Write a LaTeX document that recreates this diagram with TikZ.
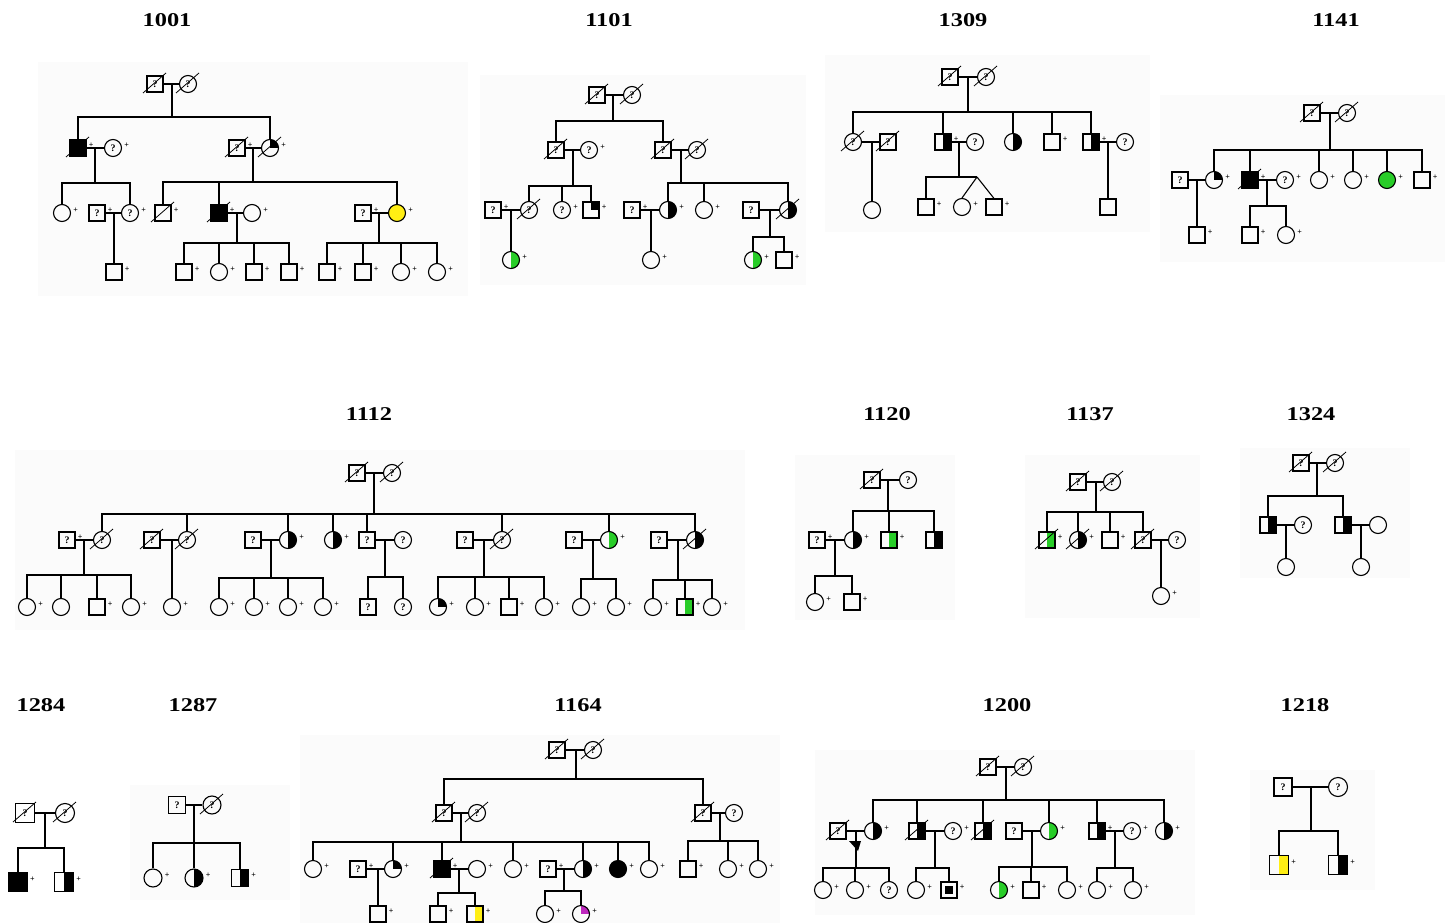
\documentclass[tikz,border=0pt]{standalone}
\usepackage{fontspec}
\setmainfont{Liberation Serif}
\definecolor{pgreen}{RGB}{40,205,40}
\definecolor{pyellow}{RGB}{255,238,20}
\definecolor{pmag}{RGB}{190,40,190}
\tikzset{
  sym/.style={draw=black, line width=1.1pt, inner sep=0pt, font=\fontsize{10}{10}\selectfont\bfseries},
  m/.style={sym, rectangle, minimum size=16pt},
  f/.style={sym, circle, minimum size=17pt},
  big/.style={minimum size=19pt},
  p/.style={label={[plusl]east:+}},
  plusl/.style={font=\fontsize{8}{8}\selectfont\bfseries, inner sep=0.5pt, xshift=1.5pt, yshift=3pt},
  hf/.style={path picture={\fill[#1] (path picture bounding box.south) rectangle (path picture bounding box.north east);}},
  qf/.style={path picture={\fill[#1] (path picture bounding box.center) rectangle (path picture bounding box.north east);}},
  hb/.style={hf=black}, hg/.style={hf=pgreen}, hy/.style={hf=pyellow},
  qb/.style={qf=black}, qm/.style={qf=pmag},
  fb/.style={fill=black}, fg/.style={fill=pgreen}, fy/.style={fill=pyellow},
  ln/.style={line width=1.1pt},
  sl/.style={line width=0.8pt},
  ttl/.style={font=\fontsize{19.5}{19.5}\selectfont\bfseries},
  bg/.style={fill=gray!3, draw=none}
}
\newcommand\dd[1]{\draw[sl] ([shift={(-12,9)}]#1.center) -- ([shift={(11,-11)}]#1.center);}
\newcommand\ttx[1]{\scalebox{1.25}[1]{#1}}
\begin{document}
\begin{tikzpicture}[x=1pt,y=-1pt]
\useasboundingbox (0,0) rectangle (1449,923);
% faint backgrounds
\fill[bg] (38,62) rectangle (468,296);
\fill[bg] (480,75) rectangle (806,285);
\fill[bg] (825,55) rectangle (1150,232);
\fill[bg] (1160,95) rectangle (1445,262);
\fill[bg] (15,450) rectangle (745,630);
\fill[bg] (795,455) rectangle (955,620);
\fill[bg] (1025,455) rectangle (1200,618);
\fill[bg] (1240,448) rectangle (1410,578);
\fill[bg] (130,785) rectangle (290,900);
\fill[bg] (300,735) rectangle (780,923);
\fill[bg] (815,750) rectangle (1195,915);
\fill[bg] (1250,770) rectangle (1375,890);
% titles
\node[ttl] (t1001) at (167,20) {\ttx{1001}};
\node[ttl] (t1101) at (609,20) {\ttx{1101}};
\node[ttl] (t1309) at (963,20) {\ttx{1309}};
\node[ttl] (t1141) at (1336,20) {\ttx{1141}};
\node[ttl] (t1112) at (369,414) {\ttx{1112}};
\node[ttl] (t1120) at (887,414) {\ttx{1120}};
\node[ttl] (t1137) at (1090,414) {\ttx{1137}};
\node[ttl] (t1324) at (1311,414) {\ttx{1324}};
\node[ttl] (t1284) at (41,705) {\ttx{1284}};
\node[ttl] (t1287) at (193,705) {\ttx{1287}};
\node[ttl] (t1164) at (578,705) {\ttx{1164}};
\node[ttl] (t1200) at (1007,705) {\ttx{1200}};
\node[ttl] (t1218) at (1305,705) {\ttx{1218}};

% ===== 1001 =====
\node[m] (a1) at (155,84) {?}; \dd{a1}
\node[f] (a2) at (188,84) {?}; \dd{a2}
\draw[ln] (a1) -- (a2);
\coordinate (am0) at (172,84); \coordinate (as0) at (172,117);
\draw[ln] (am0) -- (as0);
\node[m,fb,p] (a3) at (78,148) {}; \dd{a3}
\node[f,p] (a4) at (113,148) {?};
\node[m,p] (a5) at (237,148) {?}; \dd{a5}
\node[f,qb,p] (a6) at (270,148) {}; \dd{a6}
\draw[ln] (a3.north) |- (as0); \draw[ln] (a6.north) |- (as0);
\draw[ln] (a3) -- (a4); \draw[ln] (a5) -- (a6);
\coordinate (am1) at (95,148); \coordinate (as1) at (95,183);
\draw[ln] (am1) -- (as1);
\node[f,p] (a7) at (62,213) {};
\node[m,p] (a8) at (97,213) {?};
\node[f,p] (a9) at (130,213) {?};
\draw[ln] (a7.north) |- (as1); \draw[ln] (a9.north) |- (as1);
\draw[ln] (a8) -- (a9);
\coordinate (am2) at (114,213);
\node[m,p] (a10) at (114,272) {};
\draw[ln] (am2) -- (a10.north);
\coordinate (am3) at (253,148); \coordinate (as3) at (253,182);
\draw[ln] (am3) -- (as3);
\node[m,p] (a11) at (163,213) {}; \dd{a11}
\node[m,fb,p] (a12) at (219,213) {}; \dd{a12}
\node[f,p] (a13) at (252,213) {};
\node[m,p] (a14) at (363,213) {?};
\node[f,fy,p] (a15) at (397,213) {};
\draw[ln] (a11.north) |- (as3); \draw[ln] (a12.north) |- (as3); \draw[ln] (a15.north) |- (as3);
\draw[ln] (a12) -- (a13); \draw[ln] (a14) -- (a15);
\coordinate (am4) at (237,213); \coordinate (as4) at (237,243);
\draw[ln] (am4) -- (as4);
\node[m,p] (a16) at (184,272) {};
\node[f,p] (a17) at (219,272) {};
\node[m,p] (a18) at (254,272) {};
\node[m,p] (a19) at (289,272) {};
\foreach \c in {a16,a17,a18,a19} \draw[ln] (\c.north) |- (as4);
\coordinate (am5) at (379,213); \coordinate (as5) at (379,243);
\draw[ln] (am5) -- (as5);
\node[m,p] (a20) at (327,272) {};
\node[m,p] (a21) at (363,272) {};
\node[f,p] (a22) at (401,272) {};
\node[f,p] (a23) at (437,272) {};
\foreach \c in {a20,a21,a22,a23} \draw[ln] (\c.north) |- (as5);

% ===== 1101 =====
\node[m] (b1) at (597,95) {?}; \dd{b1}
\node[f] (b2) at (632,95) {?}; \dd{b2}
\draw[ln] (b1) -- (b2);
\coordinate (bm0) at (613,95); \coordinate (bs0) at (613,121);
\draw[ln] (bm0) -- (bs0);
\node[m] (b3) at (556,150) {?}; \dd{b3}
\node[f,p] (b4) at (589,150) {?};
\node[m] (b5) at (663,150) {?}; \dd{b5}
\node[f] (b6) at (697,150) {?}; \dd{b6}
\draw[ln] (b3.north) |- (bs0); \draw[ln] (b5.north) |- (bs0);
\draw[ln] (b3) -- (b4); \draw[ln] (b5) -- (b6);
\coordinate (bm1) at (573,150); \coordinate (bs1) at (573,186);
\draw[ln] (bm1) -- (bs1);
\coordinate (bm2) at (681,150); \coordinate (bs2) at (681,183);
\draw[ln] (bm2) -- (bs2);
\node[m,p] (b7) at (493,210) {?};
\node[f] (b8) at (529,210) {?}; \dd{b8}
\node[f,p] (b9) at (562,210) {?};
\node[m,qb,p] (b10) at (591,210) {};
\foreach \c in {b8,b9,b10} \draw[ln] (\c.north) |- (bs1);
\draw[ln] (b7) -- (b8);
\coordinate (bm3) at (511,210);
\node[f,hg,p] (b11) at (511,260) {};
\draw[ln] (bm3) -- (b11.north);
\node[m,p] (b12) at (632,210) {?};
\node[f,hb,p] (b13) at (668,210) {};
\node[f,p] (b14) at (704,210) {};
\node[m] (b15) at (751,210) {?};
\node[f,hb] (b16) at (788,210) {}; \dd{b16}
\foreach \c in {b13,b14,b16} \draw[ln] (\c.north) |- (bs2);
\draw[ln] (b12) -- (b13); \draw[ln] (b15) -- (b16);
\coordinate (bm4) at (651,210);
\node[f,p] (b17) at (651,260) {};
\draw[ln] (bm4) -- (b17.north);
\coordinate (bm5) at (770,210); \coordinate (bs5) at (770,237);
\draw[ln] (bm5) -- (bs5);
\node[f,hg,p] (b18) at (753,260) {};
\node[m,p] (b19) at (784,260) {};
\draw[ln] (b18.north) |- (bs5); \draw[ln] (b19.north) |- (bs5);

% ===== 1309 =====
\node[m] (c1) at (950,77) {?}; \dd{c1}
\node[f] (c2) at (986,77) {?}; \dd{c2}
\draw[ln] (c1) -- (c2);
\coordinate (cm0) at (968,77); \coordinate (cs0) at (968,112);
\draw[ln] (cm0) -- (cs0);
\node[f] (c3) at (853,142) {?}; \dd{c3}
\node[m] (c4) at (888,142) {?}; \dd{c4}
\node[m,hb,p] (c5) at (943,142) {};
\node[f] (c6) at (975,142) {?};
\node[f,hb] (c7) at (1013,142) {};
\node[m,p] (c8) at (1052,142) {};
\node[m,hb,p] (c9) at (1091,142) {};
\node[f] (c10) at (1125,142) {?};
\foreach \c in {c3,c5,c7,c8,c9} \draw[ln] (\c.north) |- (cs0);
\draw[ln] (c3) -- (c4); \draw[ln] (c5) -- (c6); \draw[ln] (c9) -- (c10);
\coordinate (cm1) at (872,142);
\node[f] (c11) at (872,210) {};
\draw[ln] (cm1) -- (c11.north);
\coordinate (cm2) at (959,142); \coordinate (cs2) at (959,177);
\coordinate (ctw) at (977,177);
\draw[ln] (cm2) -- (cs2);
\node[m,p] (c12) at (926,207) {};
\node[f,p] (c13) at (962,207) {};
\node[m,p] (c14) at (994,207) {};
\draw[ln] (c12.north) |- (ctw);
\draw[ln] (ctw) -- (c13.north); \draw[ln] (ctw) -- (c14.north);
\coordinate (cm3) at (1108,142);
\node[m] (c15) at (1108,207) {};
\draw[ln] (cm3) -- (c15.north);

% ===== 1141 =====
\node[m] (d1) at (1312,113) {?}; \dd{d1}
\node[f] (d2) at (1347,113) {?}; \dd{d2}
\draw[ln] (d1) -- (d2);
\coordinate (dm0) at (1330,113); \coordinate (ds0) at (1330,150);
\draw[ln] (dm0) -- (ds0);
\node[m] (d3) at (1180,180) {?};
\node[f,qb,p] (d4) at (1214,180) {};
\node[m,fb,p] (d5) at (1250,180) {}; \dd{d5}
\node[f,p] (d6) at (1285,180) {?};
\node[f,p] (d7) at (1319,180) {};
\node[f,p] (d8) at (1353,180) {};
\node[f,fg,p] (d9) at (1387,180) {};
\node[m,p] (d10) at (1422,180) {};
\foreach \c in {d4,d5,d7,d8,d9,d10} \draw[ln] (\c.north) |- (ds0);
\draw[ln] (d3) -- (d4); \draw[ln] (d5) -- (d6);
\coordinate (dm1) at (1197,180);
\node[m,p] (d11) at (1197,235) {};
\draw[ln] (dm1) -- (d11.north);
\coordinate (dm2) at (1267,180); \coordinate (ds2) at (1267,206);
\draw[ln] (dm2) -- (ds2);
\node[m,p] (d12) at (1250,235) {};
\node[f,p] (d13) at (1286,235) {};
\draw[ln] (d12.north) |- (ds2); \draw[ln] (d13.north) |- (ds2);

% ===== 1112 =====
\node[m] (e1) at (357,473) {?}; \dd{e1}
\node[f] (e2) at (392,473) {?}; \dd{e2}
\draw[ln] (e1) -- (e2);
\coordinate (em0) at (374,473); \coordinate (es0) at (374,514);
\draw[ln] (em0) -- (es0);
\node[m,p] (e3) at (67,540) {?};
\node[f] (e4) at (102,540) {?}; \dd{e4}
\node[m] (e5) at (152,540) {?}; \dd{e5}
\node[f] (e6) at (187,540) {?}; \dd{e6}
\node[m] (e7) at (253,540) {?};
\node[f,hb,p] (e8) at (288,540) {};
\node[f,hb,p] (e9) at (333,540) {};
\node[m] (e10) at (367,540) {?};
\node[f] (e11) at (403,540) {?};
\node[m] (e12) at (465,540) {?};
\node[f] (e13) at (502,540) {?}; \dd{e13}
\node[m] (e14) at (574,540) {?};
\node[f,hg,p] (e15) at (609,540) {};
\node[m] (e16) at (659,540) {?};
\node[f,hb] (e17) at (695,540) {}; \dd{e17}
\foreach \c in {e4,e6,e8,e9,e10,e13,e15,e17} \draw[ln] (\c.north) |- (es0);
\draw[ln] (e3) -- (e4); \draw[ln] (e5) -- (e6); \draw[ln] (e7) -- (e8);
\draw[ln] (e10) -- (e11); \draw[ln] (e12) -- (e13); \draw[ln] (e14) -- (e15); \draw[ln] (e16) -- (e17);
\coordinate (em1) at (84,540); \coordinate (es1) at (84,575);
\draw[ln] (em1) -- (es1);
\node[f,p] (e18) at (27,607) {};
\node[f] (e19) at (61,607) {};
\node[m,p] (e20) at (97,607) {};
\node[f,p] (e21) at (131,607) {};
\foreach \c in {e18,e19,e20,e21} \draw[ln] (\c.north) |- (es1);
\coordinate (em2) at (172,540);
\node[f,p] (e22) at (172,607) {};
\draw[ln] (em2) -- (e22.north);
\coordinate (em3) at (271,540); \coordinate (es3) at (271,578);
\draw[ln] (em3) -- (es3);
\node[f,p] (e23) at (219,607) {};
\node[f,p] (e24) at (254,607) {};
\node[f,p] (e25) at (288,607) {};
\node[f,p] (e26) at (323,607) {};
\foreach \c in {e23,e24,e25,e26} \draw[ln] (\c.north) |- (es3);
\coordinate (em4) at (385,540); \coordinate (es4) at (385,577);
\draw[ln] (em4) -- (es4);
\node[m] (e27) at (368,607) {?};
\node[f] (e28) at (403,607) {?};
\draw[ln] (e27.north) |- (es4); \draw[ln] (e28.north) |- (es4);
\coordinate (em5) at (484,540); \coordinate (es5) at (484,577);
\draw[ln] (em5) -- (es5);
\node[f,qb,p] (e29) at (438,607) {};
\node[f,p] (e30) at (475,607) {};
\node[m,p] (e31) at (509,607) {};
\node[f,p] (e32) at (544,607) {};
\foreach \c in {e29,e30,e31,e32} \draw[ln] (\c.north) |- (es5);
\coordinate (em6) at (593,540); \coordinate (es6) at (593,579);
\draw[ln] (em6) -- (es6);
\node[f,p] (e33) at (581,607) {};
\node[f,p] (e34) at (616,607) {};
\draw[ln] (e33.north) |- (es6); \draw[ln] (e34.north) |- (es6);
\coordinate (em7) at (678,540); \coordinate (es7) at (678,580);
\draw[ln] (em7) -- (es7);
\node[f,p] (e35) at (653,607) {};
\node[m,hg,p] (e36) at (685,607) {};
\node[f,p] (e37) at (712,607) {};
\foreach \c in {e35,e36,e37} \draw[ln] (\c.north) |- (es7);

% ===== 1120 =====
\node[m] (g1) at (872,480) {?}; \dd{g1}
\node[f] (g2) at (908,480) {?};
\draw[ln] (g1) -- (g2);
\coordinate (gm0) at (888,480); \coordinate (gs0) at (888,511);
\draw[ln] (gm0) -- (gs0);
\node[m,p] (g3) at (817,540) {?};
\node[f,hb,p] (g4) at (853,540) {};
\node[m,hg,p] (g5) at (889,540) {};
\node[m,hb] (g6) at (934,540) {};
\foreach \c in {g4,g5,g6} \draw[ln] (\c.north) |- (gs0);
\draw[ln] (g3) -- (g4);
\coordinate (gm1) at (835,540); \coordinate (gs1) at (835,576);
\draw[ln] (gm1) -- (gs1);
\node[f,p] (g7) at (815,602) {};
\node[m,p] (g8) at (852,602) {};
\draw[ln] (g7.north) |- (gs1); \draw[ln] (g8.north) |- (gs1);

% ===== 1137 =====
\node[m] (h1) at (1078,482) {?}; \dd{h1}
\node[f] (h2) at (1112,482) {?}; \dd{h2}
\draw[ln] (h1) -- (h2);
\coordinate (hm0) at (1096,482); \coordinate (hs0) at (1096,512);
\draw[ln] (hm0) -- (hs0);
\node[m,hg,p] (h3) at (1047,540) {}; \dd{h3}
\node[f,hb,p] (h4) at (1078,540) {}; \dd{h4}
\node[m,p] (h5) at (1110,540) {};
\node[m] (h6) at (1143,540) {?}; \dd{h6}
\node[f] (h7) at (1177,540) {?};
\foreach \c in {h3,h4,h5,h6} \draw[ln] (\c.north) |- (hs0);
\draw[ln] (h6) -- (h7);
\coordinate (hm1) at (1161,540);
\node[f,p] (h8) at (1161,596) {};
\draw[ln] (hm1) -- (h8.north);

% ===== 1324 =====
\node[m] (k1) at (1301,463) {?}; \dd{k1}
\node[f] (k2) at (1335,463) {?}; \dd{k2}
\draw[ln] (k1) -- (k2);
\coordinate (km0) at (1317,463); \coordinate (ks0) at (1317,496);
\draw[ln] (km0) -- (ks0);
\node[m,hb] (k3) at (1268,525) {};
\node[f] (k4) at (1303,525) {?};
\node[m,hb] (k5) at (1343,525) {};
\node[f] (k6) at (1378,525) {};
\draw[ln] (k3.north) |- (ks0); \draw[ln] (k5.north) |- (ks0);
\draw[ln] (k3) -- (k4); \draw[ln] (k5) -- (k6);
\coordinate (km1) at (1286,525);
\node[f] (k7) at (1286,567) {};
\draw[ln] (km1) -- (k7.north);
\coordinate (km2) at (1361,525);
\node[f] (k8) at (1361,567) {};
\draw[ln] (km2) -- (k8.north);

% ===== 1284 =====
\node[m,big] (l1) at (25,813) {?}; \dd{l1}
\node[f,big] (l2) at (65,813) {?}; \dd{l2}
\draw[ln] (l1) -- (l2);
\coordinate (lm0) at (45,813); \coordinate (ls0) at (45,848);
\draw[ln] (lm0) -- (ls0);
\node[m,big,fb,p] (l3) at (18,882) {};
\node[m,big,hb,p] (l4) at (64,882) {};
\draw[ln] (l3.north) |- (ls0); \draw[ln] (l4.north) |- (ls0);

% ===== 1287 =====
\node[m,minimum size=17pt] (n1) at (177,805) {?};
\node[f,minimum size=18pt] (n2) at (212,805) {?}; \dd{n2}
\draw[ln] (n1) -- (n2);
\coordinate (nm0) at (194,805); \coordinate (ns0) at (194,843);
\draw[ln] (nm0) -- (ns0);
\node[f,minimum size=18pt,p] (n3) at (153,878) {};
\node[f,minimum size=18pt,hb,p] (n4) at (194,878) {};
\node[m,minimum size=17pt,hb,p] (n5) at (240,878) {};
\foreach \c in {n3,n4,n5} \draw[ln] (\c.north) |- (ns0);

% ===== 1164 =====
\node[m] (o1) at (557,750) {?}; \dd{o1}
\node[f] (o2) at (593,750) {?}; \dd{o2}
\draw[ln] (o1) -- (o2);
\coordinate (om0) at (576,750); \coordinate (os0) at (576,779);
\draw[ln] (om0) -- (os0);
\node[m] (o3) at (444,813) {?}; \dd{o3}
\node[f] (o4) at (477,813) {?}; \dd{o4}
\node[m] (o5) at (703,813) {?}; \dd{o5}
\node[f] (o6) at (734,813) {?};
\draw[ln] (o3.north) |- (os0); \draw[ln] (o5.north) |- (os0);
\draw[ln] (o3) -- (o4); \draw[ln] (o5) -- (o6);
\coordinate (om1) at (461,813); \coordinate (os1) at (461,842);
\draw[ln] (om1) -- (os1);
\coordinate (om2) at (720,813); \coordinate (os2) at (720,841);
\draw[ln] (om2) -- (os2);
\node[f,p] (o7) at (313,869) {};
\node[m,p] (o8) at (358,869) {?};
\node[f,qb,p] (o9) at (393,869) {};
\node[m,fb,p] (o10) at (442,869) {}; \dd{o10}
\node[f,p] (o11) at (477,869) {};
\node[f,p] (o12) at (513,869) {};
\node[m,p] (o13) at (548,869) {?};
\node[f,hb,p] (o14) at (583,869) {};
\node[f,fb,p] (o15) at (618,869) {};
\node[f,p] (o16) at (649,869) {};
\foreach \c in {o7,o9,o10,o12,o14,o15,o16} \draw[ln] (\c.north) |- (os1);
\draw[ln] (o8) -- (o9); \draw[ln] (o10) -- (o11); \draw[ln] (o13) -- (o14);
\coordinate (om3) at (378,869);
\node[m,p] (o17) at (378,914) {};
\draw[ln] (om3) -- (o17.north);
\coordinate (om4) at (459,869); \coordinate (os4) at (459,893);
\draw[ln] (om4) -- (os4);
\node[m,p] (o18) at (438,914) {};
\node[m,hy,p] (o19) at (475,914) {};
\draw[ln] (o18.north) |- (os4); \draw[ln] (o19.north) |- (os4);
\coordinate (om5) at (564,869); \coordinate (os5) at (564,891);
\draw[ln] (om5) -- (os5);
\node[f,p] (o20) at (545,914) {};
\node[f,qm,p] (o21) at (581,914) {};
\draw[ln] (o20.north) |- (os5); \draw[ln] (o21.north) |- (os5);
\node[m,p] (o22) at (688,869) {};
\node[f,p] (o23) at (728,869) {};
\node[f,p] (o24) at (758,869) {};
\foreach \c in {o22,o23,o24} \draw[ln] (\c.north) |- (os2);

% ===== 1200 =====
\node[m] (r1) at (988,767) {?}; \dd{r1}
\node[f] (r2) at (1023,767) {?}; \dd{r2}
\draw[ln] (r1) -- (r2);
\coordinate (rm0) at (1006,767); \coordinate (rs0) at (1006,800);
\draw[ln] (rm0) -- (rs0);
\node[m] (r3) at (838,831) {?}; \dd{r3}
\node[f,hb,p] (r4) at (873,831) {};
\node[m,hb] (r5) at (917,831) {}; \dd{r5}
\node[f,p] (r6) at (953,831) {?};
\node[m,hb] (r7) at (983,831) {}; \dd{r7}
\node[m] (r8) at (1014,831) {?};
\node[f,hg,p] (r9) at (1049,831) {};
\node[m,hb,p] (r10) at (1097,831) {};
\node[f,p] (r11) at (1132,831) {?};
\node[f,hb,p] (r12) at (1164,831) {};
\foreach \c in {r4,r5,r7,r9,r10,r12} \draw[ln] (\c.north) |- (rs0);
\draw[ln] (r3) -- (r4); \draw[ln] (r5) -- (r6); \draw[ln] (r8) -- (r9); \draw[ln] (r10) -- (r11);
\coordinate (rm1) at (856,831); \coordinate (rs1) at (856,868);
\draw[ln] (rm1) -- (rs1);
\fill[black] (849,841) -- (861,841) -- (858,851) -- cycle;
\node[f,p] (r13) at (823,890) {};
\node[f,p] (r14) at (855,890) {};
\node[f] (r15) at (889,890) {?};
\foreach \c in {r13,r14,r15} \draw[ln] (\c.north) |- (rs1);
\coordinate (rm2) at (935,831); \coordinate (rs2) at (935,868);
\draw[ln] (rm2) -- (rs2);
\node[f,p] (r16) at (916,890) {};
\node[m,p] (r17) at (949,890) {};
\fill[black] ([shift={(-4,-4)}]r17.center) rectangle ([shift={(4,4)}]r17.center);
\draw[ln] (r16.north) |- (rs2); \draw[ln] (r17.north) |- (rs2);
\coordinate (rm3) at (1032,831); \coordinate (rs3) at (1032,867);
\draw[ln] (rm3) -- (rs3);
\node[f,hg,p] (r18) at (999,890) {};
\node[m,p] (r19) at (1031,890) {};
\node[f,p] (r20) at (1067,890) {};
\foreach \c in {r18,r19,r20} \draw[ln] (\c.north) |- (rs3);
\coordinate (rm4) at (1115,831); \coordinate (rs4) at (1115,868);
\draw[ln] (rm4) -- (rs4);
\node[f,p] (r21) at (1097,890) {};
\node[f,p] (r22) at (1133,890) {};
\draw[ln] (r21.north) |- (rs4); \draw[ln] (r22.north) |- (rs4);

% ===== 1218 =====
\node[m,minimum size=18pt] (s1) at (1283,787) {?};
\node[f,big] (s2) at (1338,787) {?};
\draw[ln] (s1) -- (s2);
\coordinate (sm0) at (1311,787); \coordinate (ss0) at (1311,831);
\draw[ln] (sm0) -- (ss0);
\node[m,big,hy,p] (s3) at (1279,865) {};
\node[m,big,hb,p] (s4) at (1338,865) {};
\draw[ln] (s3.north) |- (ss0); \draw[ln] (s4.north) |- (ss0);
\end{tikzpicture}
\end{document}
